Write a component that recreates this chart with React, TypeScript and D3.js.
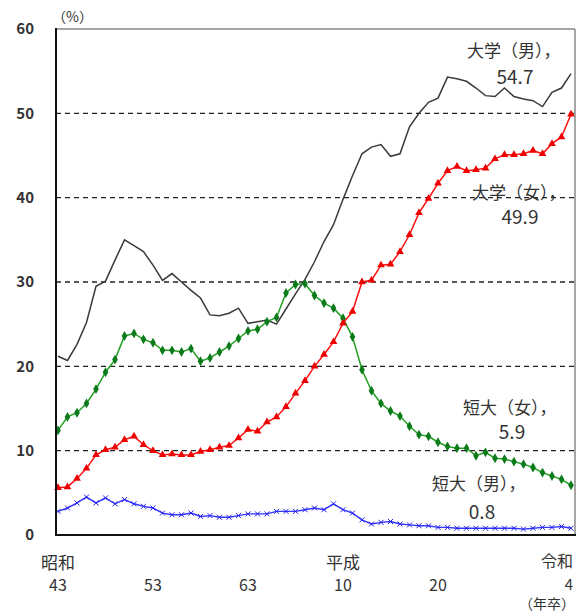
import * as d3 from "d3";

// 卒業年 (昭和43 = 1968 ... 令和4 = 2022)
const years = d3.range(1968, 2023);

const univMale = [
  21.2, 20.7, 22.6, 25.2, 29.5, 30.1, 32.6, 35.0, 34.3, 33.6,
  32.0, 30.2, 31.0, 30.0, 29.0, 28.1, 26.1, 26.0, 26.3, 26.9,
  25.1, 25.3, 25.5, 25.0, 26.8, 28.6, 30.3, 32.4, 34.8, 36.8,
  39.8, 42.6, 45.2, 46.0, 46.3, 44.9, 45.2, 48.4, 50.0, 51.3,
  51.8, 54.3, 54.1, 53.8, 53.0, 52.1, 52.0, 53.0, 52.0, 51.7,
  51.5, 50.8, 52.5, 53.0, 54.7,
];
const univFemale = [
  5.6, 5.7, 6.7, 7.9, 9.5, 10.1, 10.4, 11.3, 11.7, 10.7,
  10.0, 9.5, 9.6, 9.5, 9.5, 9.9, 10.1, 10.4, 10.6, 11.5,
  12.5, 12.3, 13.4, 14.0, 15.2, 16.8, 18.3, 20.0, 21.4, 22.9,
  25.1, 26.5, 30.0, 30.2, 32.0, 32.1, 33.6, 35.6, 38.2, 39.9,
  41.7, 43.2, 43.7, 43.2, 43.3, 43.5, 44.6, 45.1, 45.1, 45.2,
  45.6, 45.2, 46.4, 47.2, 49.9,
];
const juniorFemale = [
  12.4, 14.0, 14.5, 15.6, 17.3, 19.3, 20.8, 23.6, 23.9, 23.2,
  22.8, 21.9, 21.9, 21.7, 22.1, 20.6, 21.0, 21.7, 22.4, 23.3,
  24.2, 24.4, 25.3, 25.8, 28.7, 29.7, 29.8, 28.4, 27.5, 26.9,
  25.7, 23.5, 19.6, 17.1, 15.6, 14.7, 14.1, 12.9, 11.9, 11.7,
  11.0, 10.5, 10.3, 10.3, 9.4, 9.8, 9.1, 9.0, 8.7, 8.4,
  8.0, 7.4, 7.0, 6.6, 5.9,
];
const juniorMale = [
  2.8, 3.2, 3.8, 4.5, 3.8, 4.4, 3.7, 4.2, 3.7, 3.4,
  3.2, 2.6, 2.4, 2.4, 2.6, 2.2, 2.3, 2.1, 2.1, 2.3,
  2.5, 2.5, 2.5, 2.8, 2.8, 2.8, 3.0, 3.2, 3.0, 3.7,
  3.0, 2.6, 1.8, 1.3, 1.5, 1.6, 1.3, 1.2, 1.1, 1.1,
  0.9, 0.9, 0.8, 0.8, 0.8, 0.8, 0.8, 0.8, 0.8, 0.7,
  0.8, 0.9, 0.9, 1.0, 0.8,
];

const yTicks = [0, 10, 20, 30, 40, 50, 60];
const gridTicks = [10, 20, 30, 40, 50];
const xEraLabels = [
  { year: 1968, era: "昭和", num: "43" },
  { year: 1978, era: "", num: "53" },
  { year: 1988, era: "", num: "63" },
  { year: 1998, era: "平成", num: "10" },
  { year: 2008, era: "", num: "20" },
];

const W = 578;
const H = 615;
const left = 56;
const right = 575;
const top = 29;
const bottom = 535;

const JP = "'Noto Sans CJK JP', 'Noto Sans', sans-serif";

export default function App() {
  const x = d3.scaleLinear().domain([1968, 2022]).range([58, 571]);
  const y = d3.scaleLinear().domain([0, 60]).range([bottom, top]);

  const line = d3
    .line<number>()
    .x((_, i) => x(years[i]))
    .y((d) => y(d));

  const tri = d3.symbol(d3.symbolTriangle, 26)()!;
  const dia = d3.symbol(d3.symbolDiamond, 28)()!;
  const cross = d3.symbol(d3.symbolX, 18)()!;

  return (
    <svg
      width={W}
      height={H}
      style={{ position: "absolute", left: 0, top: 0, background: "#fff" }}
    >
      {/* grid */}
      {gridTicks.map((t) => (
        <line
          key={t}
          x1={left}
          x2={right}
          y1={y(t)}
          y2={y(t)}
          stroke="#222"
          strokeWidth={1.3}
          strokeDasharray="5,4"
        />
      ))}
      {/* frame */}
      <line x1={left} x2={right} y1={top} y2={top} stroke="#888" strokeWidth={1.5} />
      <line x1={right} x2={right} y1={top} y2={bottom} stroke="#888" strokeWidth={1.5} />

      {/* lines */}
      <path d={line(univMale)!} fill="none" stroke="#3a3a3a" strokeWidth={1.5} />
      <path d={line(juniorMale)!} fill="none" stroke="#3333ff" strokeWidth={1.4} />
      {juniorMale.map((d, i) => (
        <path
          key={i}
          d={cross}
          transform={`translate(${x(years[i])},${y(d)})`}
          fill="none"
          stroke="#2222ee"
          strokeWidth={1}
        />
      ))}
      <path d={line(juniorFemale)!} fill="none" stroke="#22a022" strokeWidth={1.5} />
      {juniorFemale.map((d, i) => (
        <path
          key={i}
          d={dia}
          transform={`translate(${x(years[i])},${y(d)})`}
          fill="#0b7a1a"
        />
      ))}
      <path d={line(univFemale)!} fill="none" stroke="#ff1010" strokeWidth={1.5} />
      {univFemale.map((d, i) => (
        <path
          key={i}
          d={tri}
          transform={`translate(${x(years[i])},${y(d)})`}
          fill="#ee0000"
        />
      ))}

      {/* axes */}
      <line x1={left} x2={left} y1={top - 1} y2={bottom + 1} stroke="#111" strokeWidth={2} />
      <line x1={left - 1} x2={right + 1} y1={bottom} y2={bottom} stroke="#111" strokeWidth={2} />

      {/* y tick labels */}
      {yTicks.map((t) => (
        <text
          key={t}
          x={34}
          y={y(t)}
          dy="0.36em"
          textAnchor="end"
          fontFamily={JP}
          fontSize={15}
          fontWeight={700}
          fill="#333"
        >
          {t}
        </text>
      ))}
      <text x={52} y={22} fontFamily={JP} fontSize={14} fill="#333">
        （%）
      </text>

      {/* x labels */}
      {xEraLabels.map((d) => (
        <g key={d.year}>
          {d.era && (
            <text
              x={x(d.year)}
              y={569}
              textAnchor="middle"
              fontFamily={JP}
              fontSize={17}
              fill="#333"
            >
              {d.era}
            </text>
          )}
          <text
            x={x(d.year)}
            y={591}
            textAnchor="middle"
            fontFamily={JP}
            fontSize={16}
            fill="#333"
          >
            {d.num}
          </text>
        </g>
      ))}
      <text x={573} y={567} textAnchor="end" fontFamily={JP} fontSize={16} fill="#333">
        令和
      </text>
      <text x={573} y={590} textAnchor="end" fontFamily={JP} fontSize={15} fill="#333">
        4
      </text>
      <text x={575} y={609} textAnchor="end" fontFamily={JP} fontSize={14} fill="#333">
        （年卒）
      </text>

      {/* series labels */}
      <g fontFamily={JP} fill="#333">
        <text x={467} y={57} fontSize={17}>大学（男），</text>
        <text x={515} y={84} fontSize={19} textAnchor="middle">
          {univMale[univMale.length - 1]}
        </text>
        <text x={472} y={199} fontSize={17}>大学（女），</text>
        <text x={520} y={224} fontSize={19} textAnchor="middle">
          {univFemale[univFemale.length - 1]}
        </text>
        <text x={463} y={414} fontSize={17}>短大（女），</text>
        <text x={512} y={439} fontSize={19} textAnchor="middle">
          {juniorFemale[juniorFemale.length - 1]}
        </text>
        <text x={432} y={490} fontSize={17}>短大（男），</text>
        <text x={482} y={519} fontSize={19} textAnchor="middle">
          {juniorMale[juniorMale.length - 1]}
        </text>
      </g>
    </svg>
  );
}
